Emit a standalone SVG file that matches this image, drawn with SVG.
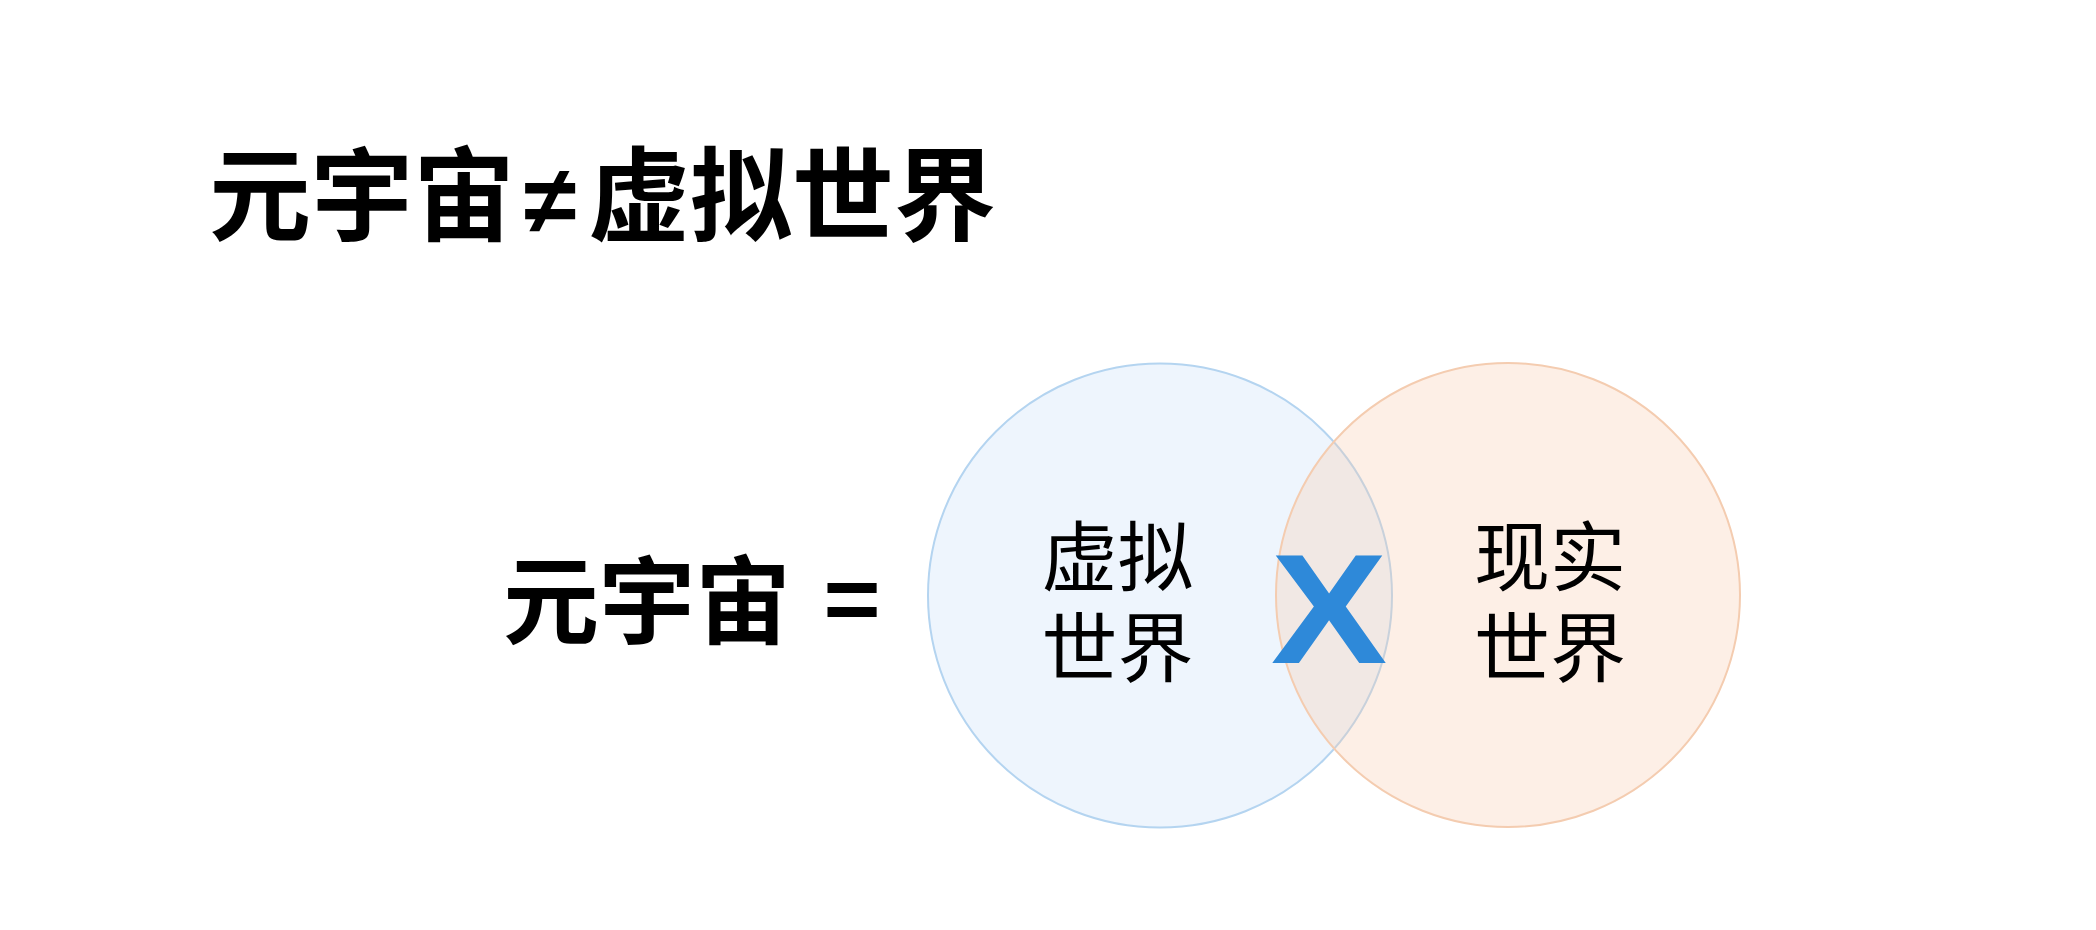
<svg xmlns="http://www.w3.org/2000/svg" width="2096" height="930" viewBox="0 0 2096 930">
<style>
.cjk{font-family:"Noto Sans CJK SC","Noto Sans",sans-serif;fill:#000}
.b{font-weight:700}
.lbl{font-size:76px;font-weight:400;text-anchor:middle}
</style>
<rect width="2096" height="930" fill="#fff"/>
<g id="title">
<text class="cjk b" y="233" font-size="102"><tspan x="209">元宇宙</tspan><tspan x="524" font-family="Liberation Sans, Arial, sans-serif" font-size="96">≠</tspan><tspan x="588">虚拟世界</tspan></text>
</g>
<g id="equation">
<text class="cjk b" x="503" y="636" font-size="96">元宇宙</text>
<text class="cjk b" x="852" y="636" font-size="96" text-anchor="middle">=</text>
</g>
<g id="virtual-world">
<circle cx="1160" cy="595.5" r="232" fill="#EEF5FD" stroke="#B4D4F0" stroke-width="2"/>
<text class="cjk lbl"><tspan x="1117.5" y="585">虚拟</tspan><tspan x="1117.5" y="676">世界</tspan></text>
</g>
<g id="real-world">
<circle cx="1508" cy="595" r="232" fill="#F8CBAD" fill-opacity="0.3" stroke="#F4CCB0" stroke-width="2"/>
<text class="cjk lbl"><tspan x="1550" y="585">现实</tspan><tspan x="1550" y="676">世界</tspan></text>
</g>
<g id="cross">
<text transform="translate(1329,663) scale(1.12,1)" x="0" y="0" text-anchor="middle" font-family="Liberation Sans, Arial, sans-serif" font-weight="700" font-size="156" fill="#2E89D9">X</text>
</g>
<g id="connectors"/>
</svg>
